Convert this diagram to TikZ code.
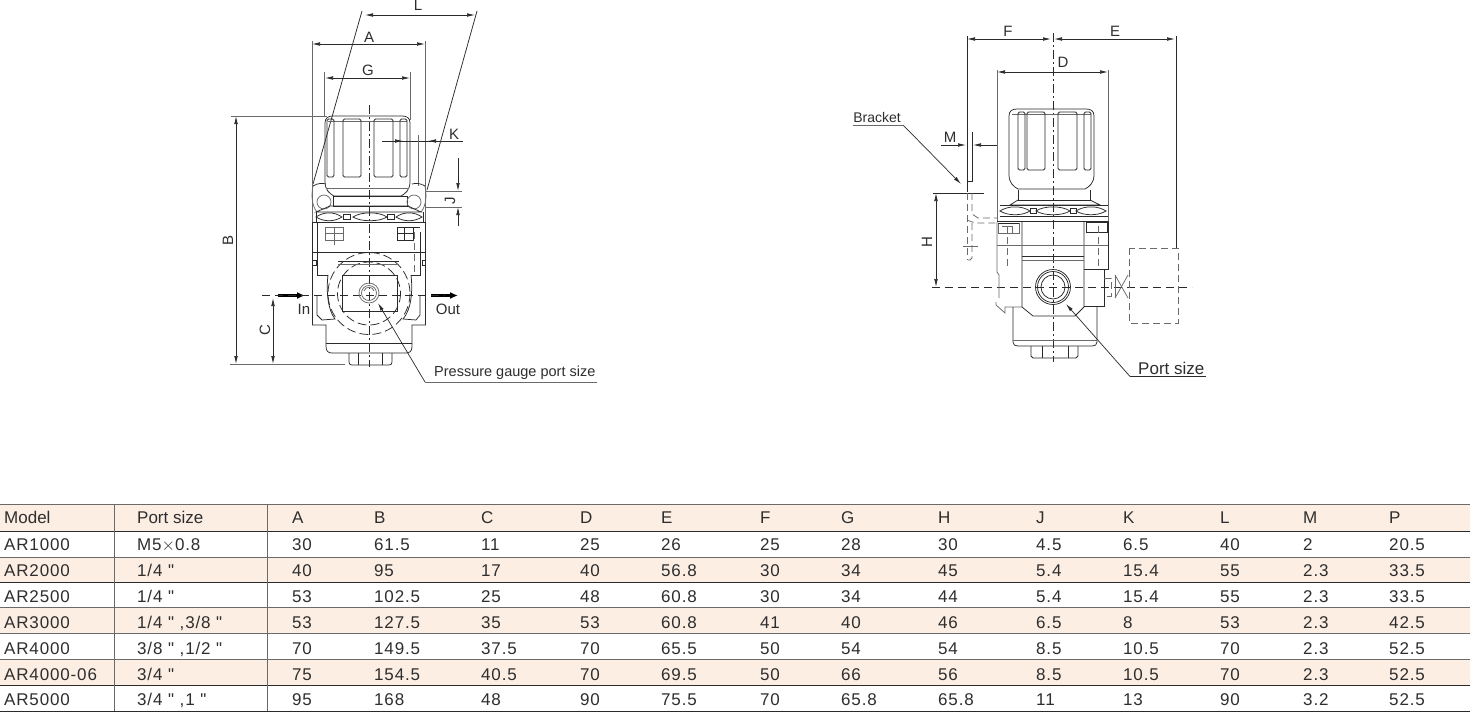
\documentclass[tikz,border=0pt]{standalone}
\usepackage{fontspec}
\setmainfont{Liberation Sans}
\newfontfamily\cellfont[LetterSpace=5]{Liberation Sans}
\newfontfamily\headfont{Liberation Sans}
\usetikzlibrary{arrows.meta,calc}
\definecolor{rowpink}{HTML}{FDEEE4}
\definecolor{inkc}{HTML}{2A2A2A}
\definecolor{softc}{HTML}{6A6A6A}
\definecolor{txtc}{HTML}{2E2E2E}
\tikzset{
 ln/.style={draw=inkc,line width=0.75pt},
 soft/.style={draw=softc,line width=0.75pt},
 ctr/.style={draw=inkc,line width=0.7pt,dash pattern=on 9pt off 3pt on 2pt off 3pt},
 axis/.style={draw=inkc,line width=0.75pt,dash pattern=on 8pt off 5pt},
 hid/.style={draw=softc,line width=0.75pt,dash pattern=on 7pt off 4pt},
 hidk/.style={draw=inkc,line width=0.75pt,dash pattern=on 9pt off 4pt},
 dimarr/.style={draw=inkc,line width=0.7pt,-{Latex[length=8pt,width=3.6pt]}},
 dimboth/.style={draw=inkc,line width=0.7pt,{Latex[length=8pt,width=3.6pt]}-{Latex[length=8pt,width=3.6pt]}},
 flow/.style={draw=black,line width=2.4pt,-{Latex[length=8pt,width=7pt]}},
 lab/.style={inner sep=0pt,text=txtc,font=\fontsize{15}{15}\selectfont},
 labr/.style={lab,rotate=90},
 cell/.style={anchor=base west,inner sep=0pt,text=txtc,font=\fontsize{17}{17}\cellfont},
 hcell/.style={anchor=base west,inner sep=0pt,text=txtc,font=\fontsize{17}{17}\headfont},
}
\newcommand{\knob}[2]{% #1: shift; #2: x of the first groove
 \begin{scope}[shift={#1}]
  \draw[ln] (0,60) -- (0,7) .. controls (0,2) and (3,0) .. (8,0) -- (77,0) .. controls (82,0) and (85,2) .. (85,7) -- (85,66) .. controls (85,74) and (80,78) .. (76,80) -- (9,80) .. controls (5,78) and (0,74) .. (0,66) -- cycle;
  \draw[soft] (3,5) -- (82,5);
  \foreach \gx/\gw in {#2/7,18/18,49/19,75/7}{
   \draw[ln,rounded corners=1.5pt] (\gx,3) rectangle ++(\gw,58);
  }
 \end{scope}
}
\begin{document}
\begin{tikzpicture}[x=1pt,y=-1pt]
\useasboundingbox (0,0) rectangle (1470,712);
\fill[white] (0,0) rectangle (1470,712);

% ---------- table ----------
\fill[rowpink] (0,505) rectangle (1470,531);
\fill[rowpink] (0,557) rectangle (1470,582);
\fill[rowpink] (0,608) rectangle (1470,633);
\fill[rowpink] (0,659) rectangle (1470,685);
\draw[draw=softc,line width=1.8pt] (0,504.5) coordinate (tl) -- (1470,504.5) coordinate (tr);
\foreach \ly/\lc in {531/inkc,557/softc,582/inkc,607.5/softc,633.5/softc,659/softc,685/inkc,711/inkc}{
 \draw[draw=\lc,line width=1pt] (0,\ly) -- (1470,\ly);
}
\draw[draw=softc,line width=1pt] (114.5,505) -- (114.5,711);
\draw[draw=softc,line width=1pt] (267,505) -- (267,711);
\def\colx#1{\ifcase#1\or4\or137\or292\or374\or481\or580\or661\or760\or841\or938\or1036\or1123\or1220\or1303\or1389\fi}
\foreach \v [count=\c] in {Model,Port size,A,B,C,D,E,F,G,H,J,K,L,M,P}{
 \node[hcell] (h\c) at (\colx{\c},523.5) {\v};
}
\foreach \ry/\vals [count=\r] in {
 550/{AR1000,M5$\times$0.8,30,61.5,11,25,26,25,28,30,4.5,6.5,40,2,20.5},
 576/{AR2000,1/4 ",40,95,17,40,56.8,30,34,45,5.4,15.4,55,2.3,33.5},
 602/{AR2500,1/4 ",53,102.5,25,48,60.8,30,34,44,5.4,15.4,55,2.3,33.5},
 628/{AR3000,{1/4 " ,3/8 "},53,127.5,35,53,60.8,41,40,46,6.5,8,53,2.3,42.5},
 654/{AR4000,{3/8 " ,1/2 "},70,149.5,37.5,70,65.5,50,54,54,8.5,10.5,70,2.3,52.5},
 680/{AR4000-06,3/4 ",75,154.5,40.5,70,69.5,50,66,56,8.5,10.5,70,2.3,52.5},
 705/{AR5000,{3/4 " ,1 "},95,168,48,90,75.5,70,65.8,65.8,11,13,90,3.2,52.5}}{
 \foreach \v [count=\c] in \vals {
  \node[cell] (r\r c\c) at (\colx{\c},\ry) {\v};
 }
}

% ---------- left view: dimensions ----------
\coordinate (La) at (365,15); \coordinate (Lb) at (475,15);
\draw[dimboth] (La) -- (Lb);
\node[lab] (tL) at (418,5) {L};
\draw[ln] (362,11) -- (313,184);
\draw[ln] (477,11) -- (427,190);
\coordinate (Aa) at (312,44); \coordinate (Ab) at (425,44);
\draw[dimboth] (Aa) -- (Ab);
\node[lab] (tA) at (369,37) {A};
\draw[soft] (312,41) -- (312,222);
\draw[soft] (425.5,41) -- (425.5,222);
\coordinate (Ga) at (325,78); \coordinate (Gb) at (410,78);
\draw[dimboth] (Ga) -- (Gb);
\node[lab] (tG) at (368,70) {G};
\draw[soft] (324.5,72) -- (324.5,116);
\draw[soft] (410.5,72) -- (410.5,120);
\draw[soft] (231,116) -- (327,116);
\coordinate (Ba) at (236,116); \coordinate (Bb) at (236,364);
\draw[dimboth] (Ba) -- (Bb);
\node[labr] (tB) at (228,240) {B};
\draw[soft] (230,364.5) -- (345,364.5);
\coordinate (Ca) at (273,298); \coordinate (Cb) at (273,364);
\draw[dimboth] (Ca) -- (Cb);
\node[labr] (tC) at (265,330) {C};
\draw[ln] (382,141) -- (463,141);
\coordinate (Ka) at (392,141); \coordinate (Kb) at (403,141);
\draw[dimarr] (Ka) -- (Kb);
\coordinate (Kc) at (440,141); \coordinate (Kd) at (428,141);
\draw[dimarr] (Kc) -- (Kd);
\node[lab] (tK) at (454,134) {K};
\draw[soft] (418,135) -- (418,186);
\draw[soft] (426,191) -- (462,191);
\draw[soft] (426,207) -- (462,207);
\coordinate (Ja) at (458,158); \coordinate (Jb) at (458,191);
\draw[dimarr] (Ja) -- (Jb);
\coordinate (Jc) at (458,226); \coordinate (Jd) at (458,207);
\draw[dimarr] (Jc) -- (Jd);
\node[labr] (tJ) at (450,201) {J};
\coordinate (Ia) at (278,295.5); \coordinate (Ib) at (305,295.5);
\draw[flow] (Ia) -- (Ib);
\coordinate (Oa) at (431,295.5); \coordinate (Ob) at (458,295.5);
\draw[flow] (Oa) -- (Ob);
\node[lab] (tIn) at (304,309) {In};
\node[lab] (tOut) at (448,309) {Out};
\node[lab,anchor=base west,font=\fontsize{14.5}{15}\selectfont] (tP) at (434,376) {Pressure gauge port size};
\coordinate (Pa) at (425,382); \coordinate (Pb) at (597,382); \coordinate (Pc) at (378,303);
\draw[soft] (Pb) -- (Pa);
\draw[dimarr] (Pa) -- (Pc);

% ---------- left view: body ----------
\draw[ctr] (369,105) -- (369,367);
\draw[axis] (262,295.5) -- (445,295.5);
\knob{(325,116)}{2}
\draw[soft] (326,188) -- (409,188);
\draw[ln] (333,196) rectangle (407,206);
\draw[ln] (313,186) .. controls (318,183) and (322,183) .. (326,184);
\draw[ln] (425,186) .. controls (420,183) and (416,183) .. (412,184);
\draw[soft] (313,186) .. controls (311,196) and (312,206) .. (317,212);
\draw[soft] (425,186) .. controls (427,196) and (426,206) .. (421,212);
\draw[soft] (324,202) circle (7);
\draw[soft] (414,202) circle (7);
\draw[ln] (330,206) -- (408,206) -- (421,212) -- (316,212) -- cycle;
\foreach \ea/\eb in {316/342,353/387,396/422}{
 \draw[ln] (\ea,217) .. controls ({\ea+8},211.5) and ({\eb-8},211.5) .. (\eb,217) .. controls ({\eb-8},222) and ({\ea+8},222) .. (\ea,217) -- cycle;
}
\draw[ln] (343,214.5) rectangle (350,219.5);
\draw[ln] (387,214.5) rectangle (394,219.5);
\draw[ln] (316,212) -- (316,222);
\draw[ln] (423,212) -- (423,222);
\draw[ln] (312,222.5) -- (425.5,222.5);
\draw[ln] (312.5,222) -- (312.5,325) -- (326,325) -- (326,346) .. controls (326,351) and (328,353) .. (332,353) -- (406,353) .. controls (410,353) and (412,351) .. (412,346) -- (412,325) -- (425.5,325) -- (425.5,222);
\draw[ln] (326,343) -- (412,343);
\draw[ln] (349,353) -- (349,362) .. controls (349,364) and (350,365) .. (352,365) -- (389,365) .. controls (391,365) and (392,364) .. (392,362) -- (392,353);
\draw[ln] (358,353) -- (358,365);
\draw[ln] (382,353) -- (382,365);
\draw[ln] (313,252) -- (425,252);
\draw[soft] (325,227) rectangle (343,240);
\draw[soft] (334,227) -- (334,245);
\draw[soft] (325,233) -- (343,233);
\draw[ln] (397,227) rectangle (413,240);
\draw[ln] (404,227) -- (404,240);
\draw[ln] (397,233) -- (413,233);
\draw[ln] (413,227) -- (420,227);
\draw[ln] (317,223) -- (317,275) -- (328,275);
\draw[ln] (420,232) -- (420,275) -- (411,275);
\draw[hid] (414,232) -- (414,275);
\draw[ln] (328,275) .. controls (326,292) and (328,310) .. (335,319) -- (322,320) -- (317,315) -- (317,295);
\draw[ln] (411,275) .. controls (413,292) and (411,310) .. (403,319) -- (416,320) -- (420,315) -- (420,295);
\draw[ln] (313,260) -- (316,260) -- (316,265) -- (313,265);
\draw[ln] (425,260) -- (422,260) -- (422,265) -- (425,265);
\draw[hidk] (369,293.5) circle (41);
\draw[hidk] (369,293.5) circle (31.5);
\draw[ln] (338,261) -- (399,261);
\draw[soft] (338,264.5) -- (399,264.5);
\draw[ln] (342,275) rectangle (397,311);
\draw[soft] (369,293) circle (10);
\draw[soft] (369,293) circle (7.5);
\draw[soft] (364,291) .. controls (365,286) and (373,286) .. (374,291);

% ---------- right view: dimensions ----------
\coordinate (Fa) at (967,39); \coordinate (Fb) at (1051,39);
\draw[dimboth] (Fa) -- (Fb);
\node[lab] (tF) at (1008,31) {F};
\coordinate (Ea) at (1054,39); \coordinate (Eb) at (1175,39);
\draw[dimboth] (Ea) -- (Eb);
\node[lab] (tE) at (1115,31) {E};
\draw[ln] (967,36) -- (967,192);
\draw[ln] (1176.5,36) -- (1176.5,248);
\coordinate (Da) at (997,72); \coordinate (Db) at (1108,72);
\draw[dimboth] (Da) -- (Db);
\node[lab] (tD) at (1063,62) {D};
\draw[soft] (997,70) -- (997,222);
\draw[soft] (1108,70) -- (1108,222);
\node[lab,font=\fontsize{14}{14}\selectfont] (tBr) at (877,117) {Bracket};
\coordinate (Bra) at (853,125); \coordinate (Brb) at (903,125); \coordinate (Brc) at (961,184);
\draw[soft] (Bra) -- (Brb);
\draw[dimarr] (Brb) -- (Brc);
\node[lab] (tM) at (950,137) {M};
\coordinate (Ma) at (941,145); \coordinate (Mb) at (966,145);
\draw[dimarr] (Ma) -- (Mb);
\coordinate (Mc) at (997,145); \coordinate (Md) at (973,145);
\draw[dimarr] (Mc) -- (Md);
\draw[ln] (972,132) -- (972,181) -- (967,181);
\draw[ln] (933,193) -- (984,193);
\coordinate (Ha) at (936,193); \coordinate (Hb) at (936,287);
\draw[dimboth] (Ha) -- (Hb);
\node[labr] (tH) at (927,242) {H};
\node[lab,anchor=base west,font=\fontsize{17}{17}\selectfont] (tPs) at (1138,374.5) {Port size};
\coordinate (Psa) at (1130,376.5); \coordinate (Psb) at (1206,376.5); \coordinate (Psc) at (1066,304);
\draw[ln] (Psb) -- (Psa);
\draw[dimarr] (Psa) -- (Psc);

% ---------- right view: body ----------
\draw[ctr] (1053,33) -- (1053,362);
\draw[axis] (932,287) -- (1192,287);
\knob{(1009,109)}{9}
\draw[ln] (1018,190) -- (1018,200) -- (1090,200) -- (1090,190);
\draw[ln] (1018,200) -- (1010,205) -- (1100,205) -- (1090,200);
\foreach \ea/\eb in {1000/1030,1036/1070,1076/1106}{
 \draw[ln] (\ea,211) .. controls ({\ea+8},205.5) and ({\eb-8},205.5) .. (\eb,211) .. controls ({\eb-8},216) and ({\ea+8},216) .. (\ea,211) -- cycle;
}
\draw[ln] (1030,208.5) rectangle (1036,213.5);
\draw[ln] (1070,208.5) rectangle (1076,213.5);
\draw[ln] (1000,205) -- (1108,205);
\draw[ln] (1000,216.5) -- (1108,216.5);
\draw[ln] (997,221) -- (1108,221);
\draw[soft] (997,222) -- (997,272) -- (999,275) -- (999,298);
\draw[soft] (996,302) -- (996,305) -- (1005,313) -- (1005,307) -- (1022,307);
\draw[ln] (1022,221) -- (1022,307) -- (1033,316) -- (1075,316) -- (1084,307) -- (1084,221);
\draw[ln] (1108,221) -- (1108,269) -- (1084,269);
\draw[ln] (1104,269) -- (1104,306) -- (1084,306);
\draw[soft] (997,245) -- (1108,245);
\draw[ln] (1022,256) -- (1084,256);
\draw[soft] (1022,260) -- (1084,260);
\draw[soft] (998,223) rectangle (1019,233);
\draw[ln] (998,223) -- (1019,223);
\draw[ln] (1086,222) rectangle (1107,232);
\draw[hid] (1007,226) -- (1007,267);
\draw[soft] (1002,226) -- (1012,226) -- (1012,233);
\draw[hid] (1098,226) -- (1098,268);
\draw[ln] (1053,287) circle (17.5);
\draw[ln] (1053,287) circle (15.5);
\draw[ln] (1053,287) circle (12);
\draw[ln] (1013,307) -- (1013,342) .. controls (1013,345) and (1015,346) .. (1018,346) -- (1092,346) .. controls (1095,346) and (1097,345) .. (1097,342) -- (1097,307);
\draw[soft] (1013,340) -- (1097,340);
\draw[ln] (1031,346) -- (1031,356) -- (1033,358) -- (1076,358) -- (1078,356) -- (1078,346);
\draw[ln] (1042,346) -- (1042,358);
\draw[ln] (1068,346) -- (1068,358);
% bracket (hidden)
\draw[hid] (967,193) -- (967,260);
\draw[hid] (972,193) -- (972,214) -- (978,218) -- (997,218);
\draw[hid] (967,220) -- (975,223) -- (997,223);
\draw[hid] (972,223) -- (972,258) -- (970,260) -- (967,260);
\draw[soft] (963,246) -- (978,246);
% gauge (hidden)
\draw[hid] (1129,248) rectangle (1178,323);
\draw[hid] (1104,278) -- (1111,278) -- (1111,296) -- (1104,296);
\draw[soft] (1115,275) -- (1115,298);
\draw[soft] (1115,275) -- (1128,298);
\draw[soft] (1115,298) -- (1128,275);
\end{tikzpicture}
\end{document}
